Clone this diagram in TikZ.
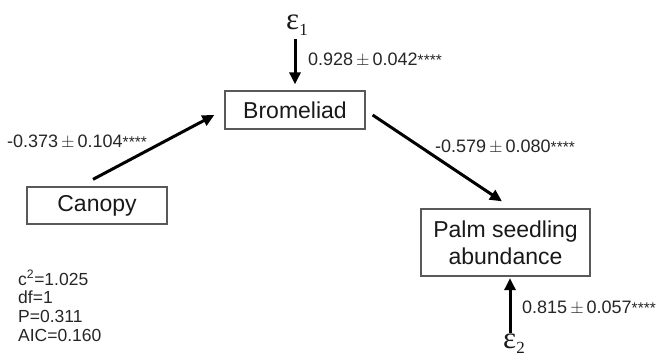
\documentclass[tikz,border=0pt]{standalone}
\usepackage{fontspec}
\setmainfont{Liberation Sans}
\newfontfamily\serifgr{Liberation Serif}
\usetikzlibrary{arrows.meta,calc}
\tikzset{
  boxnode/.style={draw=black!65, line width=1.3pt, fill=white, inner sep=0pt,
    font=\fontsize{23}{27}\selectfont, text=black!90, align=center},
  arr/.style={line width=3pt, -{Triangle[length=12pt,width=11pt]}},
  coef/.style={anchor=west, inner sep=0pt, font=\fontsize{18}{20}\selectfont, text=black!85},
  errnode/.style={inner sep=0pt, font=\serifgr\fontsize{31}{31}\selectfont, text=black!90},
  stats/.style={anchor=north west, inner sep=0pt, align=left, font=\fontsize{17.5}{18.8}\selectfont, text=black!85}
}
\newcommand{\stars}{\raisebox{0.5pt}{\fontsize{15.5}{15.5}\selectfont****}}
\newcommand{\pmsp}{\,$\pm$\,}
\begin{document}
\begin{tikzpicture}[x=1pt,y=-1pt]
\useasboundingbox (0,0) rectangle (658,359);
\node[boxnode, minimum width=140pt, minimum height=38pt] (brom) at (295,110) {Bromeliad};
\node[boxnode, minimum width=140pt, minimum height=37pt] (canopy) at (97,205.5) {Canopy};
\node[boxnode, minimum width=169pt, minimum height=67pt] (palm) at (505.5,242.5) {Palm seedling\\abundance};
\node[errnode] (e1) at (297,25) {ε\raisebox{-6pt}{\fontsize{17}{17}\selectfont 1}};
\node[errnode] (e2) at (514,344) {ε\raisebox{-5pt}{\fontsize{17}{17}\selectfont 2}};
\coordinate (e1a) at ($(brom.north)+(0,-51)$);
\coordinate (e2a) at ($(palm.south)+(4.5,56)$);
\draw[arr] (e1a) -- ($(brom.north)+(0,-6)$);
\draw[arr] ($(canopy.north)+(-4,-7)$) -- ($(brom.west)+(-10,5)$);
\draw[arr] ($(brom.east)+(7,5)$) -- ($(palm.north)+(-3.5,-7)$);
\draw[arr] (e2a) -- ($(palm.south)+(4.5,1.5)$);
\node[coef] (c1) at (308,60) {0.928\pmsp 0.042\stars};
\node[coef] (c2) at (7,142) {-0.373\pmsp 0.104\stars};
\node[coef] (c3) at (435,147) {-0.579\pmsp 0.080\stars};
\node[coef] (c4) at (522,308) {0.815\pmsp 0.057\stars};
\node[stats] (st) at (18,270) {c\textsuperscript{2}=1.025\\df=1\\P=0.311\\AIC=0.160};
\end{tikzpicture}
\end{document}
